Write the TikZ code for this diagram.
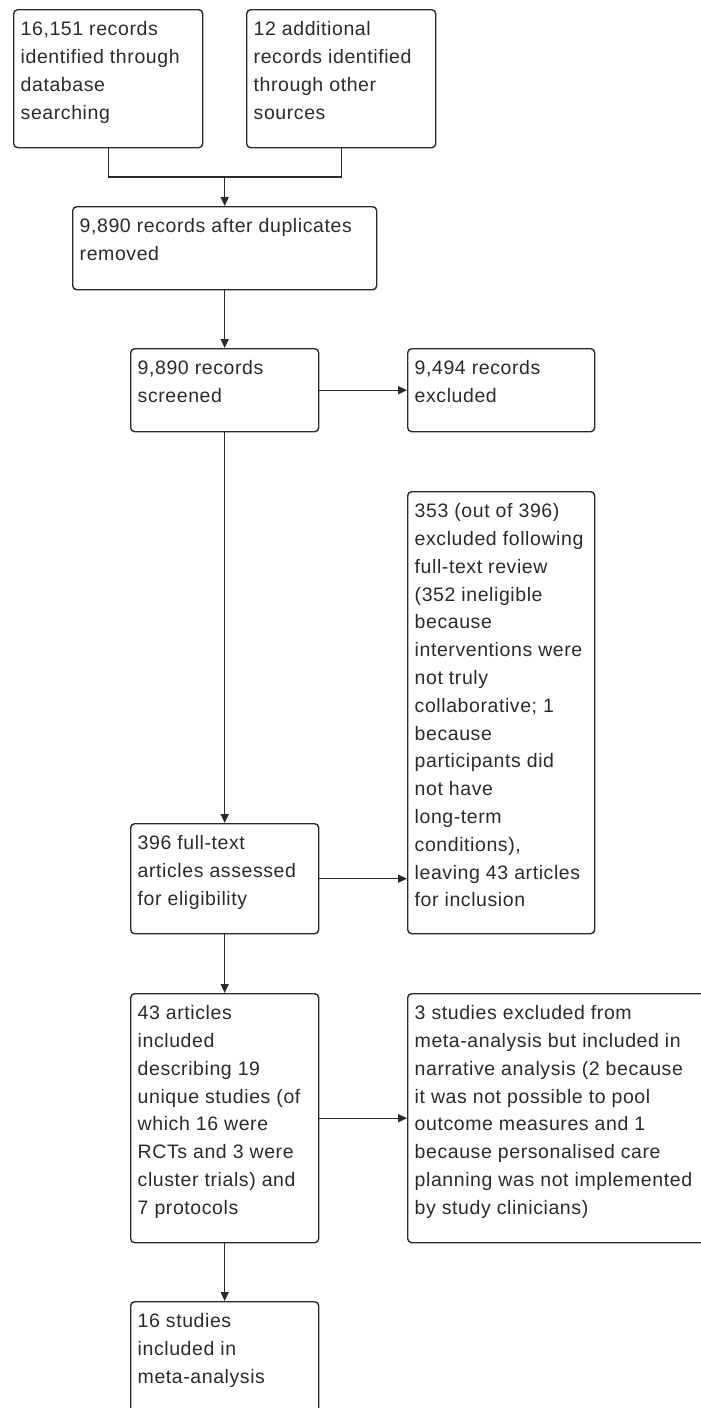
\documentclass[tikz,border=0pt]{standalone}
\usepackage{fontspec}
\setmainfont[LetterSpace=3]{Liberation Sans}
\usetikzlibrary{arrows.meta}

\definecolor{tinta}{HTML}{2A2A2A}

% caixa com texto no topo: largura, altura, texto
\newcommand{\caixatexto}[3]{\parbox[t][#2pt][t]{\dimexpr #1pt-14pt\relax}{\raggedright\rule{0pt}{26pt}#3}}

\begin{document}
\begin{tikzpicture}[
                x=1pt, y=-1pt,
                caixa/.style={draw=tinta, text=tinta, line width=1.4pt, rounded corners=4pt,
                    anchor=north west, inner xsep=7pt, inner ysep=0pt,
                    font=\fontsize{19.5}{27.8}\selectfont},
                linha/.style={draw=tinta, line width=1.4pt},
                seta/.style={linha, -{Triangle[length=9pt,width=8pt]}},
            ]
            \useasboundingbox (0,0) rectangle (701,1408);
            \clip (0,0) rectangle (701,1408);

            \node[caixa] (busca) at (13, 9) {\caixatexto{189}{138}{16,151 records\\identified through\\database\\searching}};
            \node[caixa] (outras) at (246, 9) {\caixatexto{189}{138}{12 additional\\records identified\\through other\\sources}};
            \node[caixa] (dup) at (72, 206) {\caixatexto{304}{83}{9,890 records after duplicates\\removed}};
            \node[caixa] (triagem) at (130, 348) {\caixatexto{188}{83}{9,890 records\\screened}};
            \node[caixa] (excl1) at (407, 348) {\caixatexto{187}{83}{9,494 records\\excluded}};
            \node[caixa] (excl2) at (407, 491) {\caixatexto{187}{442}{353 (out of 396)\\excluded following\\full-text review\\(352 ineligible\\because\\interventions were\\not truly\\collaborative; 1\\because\\participants did\\not have\\long-term\\conditions),\\leaving 43 articles\\for inclusion}};
            \node[caixa] (texto) at (130, 823) {\caixatexto{188}{110}{396 full-text\\articles assessed\\for eligibility}};
            \node[caixa] (incl) at (130, 993) {\caixatexto{188}{249}{43 articles\\included\\describing 19\\unique studies (of\\which 16 were\\RCTs and 3 were\\cluster trials) and\\7 protocols}};
            \node[caixa] (excl3) at (407, 993) {\caixatexto{300}{249}{3 studies excluded from\\meta-analysis but included in\\narrative analysis (2 because\\it was not possible to pool\\outcome measures and 1\\because personalised care\\planning was not implemented\\by study clinicians)}};
            \node[caixa] (meta) at (130, 1301) {\caixatexto{188}{140}{16 studies\\included in\\meta-analysis}};

            \coordinate (juncao) at (dup.north |- 0,177);

            \draw[linha] (busca.south) |- (juncao) -| (outras.south);
            \draw[seta] (juncao) -- (dup.north);
            \draw[seta] (dup) -- (triagem);
            \draw[seta] (triagem) -- (excl1);
            \draw[seta] (triagem) -- (texto);
            \draw[seta] (texto.east) -- (texto.east -| excl2.west);
            \draw[seta] (texto) -- (incl);
            \draw[seta] (incl) -- (excl3);
            \draw[seta] (incl) -- (meta);
        \end{tikzpicture}
\end{document}
